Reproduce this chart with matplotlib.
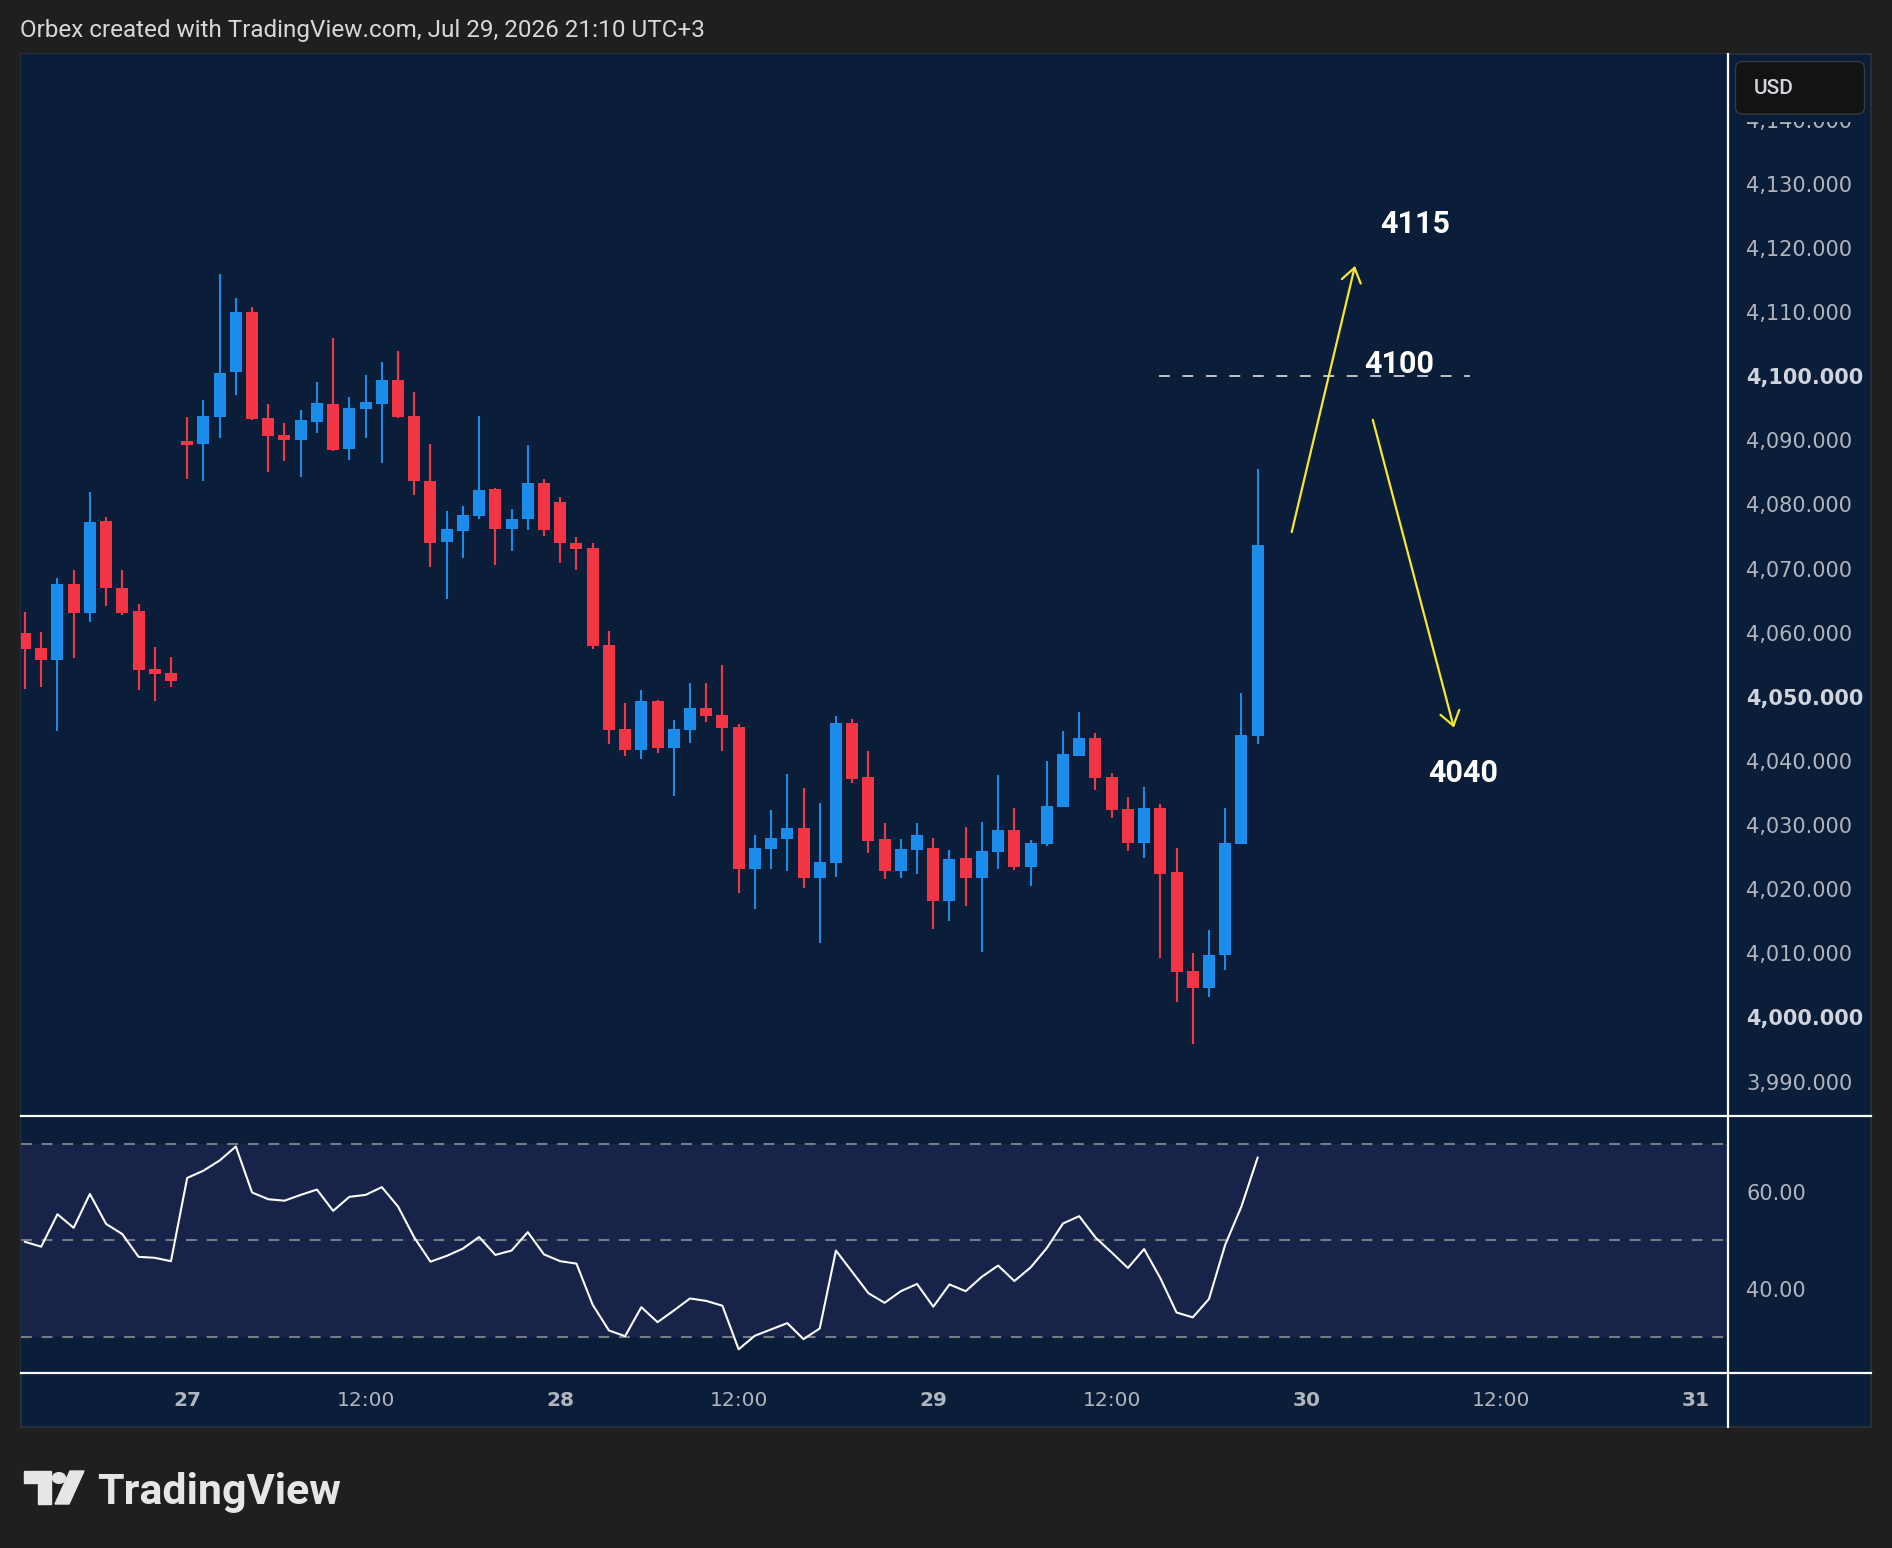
import numpy as np
import matplotlib
matplotlib.use("Agg")
import matplotlib.pyplot as plt
from matplotlib.patches import Rectangle, FancyBboxPatch, Polygon, Circle
from matplotlib.lines import Line2D
from matplotlib.transforms import IdentityTransform

W, H = 1892, 1548

# -----------------------------
# 1. DATA (hourly bars)
# -----------------------------
opens = [4060.0, 4057.6, 4055.8, 4067.6, 4063.1, 4077.4, 4067.0, 4063.4, 4054.3, 4053.7,
         4089.9, 4089.5, 4093.7, 4100.6, 4110.0, 4093.5, 4090.8, 4090.1, 4092.9, 4095.7,
         4088.7, 4094.9, 4095.7, 4099.4, 4093.8, 4083.7, 4074.1, 4075.9, 4078.2, 4082.4,
         4076.2, 4077.7, 4083.4, 4080.4, 4074.0, 4073.2, 4058.1, 4045.0, 4041.7, 4049.4,
         4042.0, 4044.8, 4048.3, 4047.2, 4045.3, 4023.2, 4026.3, 4027.8, 4029.5, 4021.8,
         4024.1, 4045.9, 4037.5, 4027.8, 4022.8, 4026.1, 4026.4, 4018.2, 4024.9, 4021.8,
         4025.8, 4029.2, 4023.5, 4027.0, 4032.8, 4040.8, 4043.6, 4037.5, 4032.5, 4027.2,
         4032.7, 4022.7, 4007.2, 4004.6, 4009.8, 4027.0, 4043.9]
highs = [4063.2, 4060.1, 4068.5, 4069.8, 4081.9, 4078.0, 4069.8, 4064.5, 4057.8, 4056.2,
         4093.6, 4096.3, 4115.9, 4112.2, 4110.8, 4095.7, 4092.7, 4094.7, 4099.1, 4106.0,
         4096.8, 4100.2, 4102.2, 4103.9, 4097.5, 4089.4, 4079.0, 4079.8, 4093.8, 4082.5,
         4079.3, 4089.3, 4084.0, 4081.2, 4074.9, 4074.0, 4060.3, 4049.0, 4051.1, 4049.5,
         4046.4, 4052.2, 4052.2, 4055.0, 4045.8, 4028.5, 4032.4, 4038.0, 4035.8, 4033.4,
         4047.0, 4046.5, 4041.6, 4030.3, 4027.8, 4030.3, 4028.0, 4026.1, 4029.7, 4030.5,
         4037.8, 4032.7, 4027.7, 4040.0, 4044.7, 4047.6, 4044.4, 4038.1, 4034.4, 4035.9,
         4033.3, 4026.4, 4010.1, 4013.7, 4032.7, 4050.6, 4085.5]
lows = [4051.3, 4051.6, 4044.7, 4056.0, 4061.7, 4064.1, 4062.8, 4051.1, 4049.3, 4051.6,
        4083.9, 4083.6, 4090.4, 4097.0, 4093.2, 4085.1, 4086.8, 4084.3, 4091.2, 4088.4,
        4087.0, 4090.4, 4086.5, 4093.5, 4081.5, 4070.3, 4065.3, 4071.7, 4077.7, 4070.6,
        4072.7, 4076.0, 4075.1, 4070.9, 4069.8, 4057.5, 4042.7, 4040.8, 4040.3, 4041.3,
        4034.5, 4042.8, 4046.1, 4041.6, 4019.4, 4016.9, 4023.2, 4022.8, 4020.2, 4011.6,
        4021.9, 4036.6, 4025.6, 4021.6, 4021.8, 4022.4, 4013.8, 4015.0, 4017.4, 4010.2,
        4023.2, 4023.0, 4020.5, 4026.7, 4032.8, 4040.8, 4035.5, 4031.1, 4026.0, 4024.9,
        4009.3, 4002.4, 3995.8, 4003.2, 4007.4, 4027.0, 4042.6]
closes = [4057.5, 4055.8, 4067.6, 4063.0, 4077.3, 4066.9, 4063.1, 4054.2, 4053.6, 4052.5,
          4089.2, 4093.8, 4100.5, 4110.0, 4093.3, 4090.7, 4090.1, 4093.2, 4095.8, 4088.5,
          4095.0, 4096.0, 4099.4, 4093.6, 4083.6, 4074.0, 4076.2, 4078.4, 4082.3, 4076.2,
          4077.7, 4083.4, 4076.0, 4074.0, 4073.1, 4057.9, 4044.8, 4041.7, 4049.4, 4042.0,
          4045.0, 4048.3, 4047.0, 4045.1, 4023.2, 4026.4, 4028.0, 4029.5, 4021.8, 4024.2,
          4045.9, 4037.2, 4027.5, 4022.8, 4026.3, 4028.5, 4018.2, 4024.7, 4021.8, 4026.0,
          4029.2, 4023.5, 4027.2, 4033.0, 4041.1, 4043.6, 4037.3, 4032.3, 4027.2, 4032.7,
          4022.4, 4007.1, 4004.6, 4009.8, 4027.2, 4044.1, 4073.6]
rsi = [49.7, 48.7, 55.4, 52.6, 59.6, 53.4, 51.3, 46.6, 46.4, 45.7,
       62.9, 64.4, 66.5, 69.4, 59.9, 58.5, 58.2, 59.4, 60.5, 56.1,
       59.0, 59.4, 61.0, 57.0, 50.6, 45.6, 46.8, 48.3, 50.7, 47.0,
       47.9, 51.7, 47.1, 45.7, 45.2, 36.7, 31.4, 30.2, 36.2, 33.1,
       35.5, 38.0, 37.5, 36.5, 27.5, 30.3, 31.6, 32.9, 29.6, 31.8,
       47.9, 43.5, 39.1, 37.1, 39.5, 41.0, 36.3, 40.9, 39.5, 42.5,
       44.8, 41.6, 44.4, 48.4, 53.5, 55.0, 50.6, 47.5, 44.3, 48.2,
       42.2, 35.1, 34.1, 37.9, 49.1, 57.0, 67.1]

time_ticks = [10, 21, 33, 44, 56, 67, 79, 91, 103]
time_labels = ["27", "12:00", "28", "12:00", "29", "12:00", "30", "12:00", "31"]
price_ticks = list(range(3990, 4150, 10))
rsi_ticks = [40, 60]
rsi_levels = [30, 50, 70]

level_price = 4100
level_span = [69.9, 89.1]
up_arrow = [(78.1, 4075.7), (82.0, 4117.2)]
down_arrow = [(83.1, 4093.2), (88.1, 4045.2)]
notes = [("4115", 85.7, 4123.8), ("4100", 84.7, 4101.9), ("4040", 88.7, 4038.1)]

# -----------------------------
# 2. STYLE
# -----------------------------
OUTER = "#1f1f1f"
NAVY = "#0a1e3a"
BAND = "#172348"
UP = "#1b8cea"
DOWN = "#f23645"
AXIS_TXT = "#b2b5be"
YELLOW = "#f7e733"

plt.rcParams["font.family"] = ["DejaVu Sans"]


def fx(x):
    return x / W


def fy(y):
    return 1 - y / H


fig = plt.figure(figsize=(W / 100, H / 100), dpi=100, facecolor=OUTER)

# chart panel background
panel = Rectangle((20.5, H - 1427), 1871 - 20.5, 1427 - 54, transform=IdentityTransform(),
                  facecolor=NAVY, edgecolor="#2a2e39", lw=1.5, zorder=-1)
fig.patches.append(panel)

left, right = 20.5, 1728
ax = fig.add_axes([fx(left), fy(1116), (right - left) / W, (1116 - 54) / H])
ax2 = fig.add_axes([fx(left), fy(1373), (right - left) / W, (1373 - 1116) / H])

xmin, xmax = -0.277, 105.0

# -----------------------------
# 3. CANDLES
# -----------------------------
x = np.arange(len(opens))
o = np.array(opens)
c = np.array(closes)
colors = [UP if cc >= oo else DOWN for oo, cc in zip(o, c)]
ax.vlines(x, lows, highs, colors=colors, lw=1.5, zorder=2)
body = np.maximum(np.abs(c - o), 0.25)
ax.bar(x, body, bottom=np.minimum(o, c), width=0.74, color=colors, lw=0, zorder=3)

ax.set_facecolor(NAVY)
ax.set_xlim(xmin, xmax)
ax.set_ylim(3984.64, 4150.24)
for s in ax.spines.values():
    s.set_visible(False)
ax.yaxis.tick_right()
ax.set_yticks(price_ticks)
ax.set_yticklabels([f"{v:,.3f}" for v in price_ticks])
ax.tick_params(axis="y", length=0, pad=13, labelsize=15, labelcolor=AXIS_TXT)
ax.tick_params(axis="x", bottom=False, labelbottom=False)
for lab, v in zip(ax.get_yticklabels(), price_ticks):
    if v % 50 == 0:
        lab.set_fontweight("bold")
        lab.set_color("#d1d4dc")

# annotations
ax.plot(level_span, [level_price, level_price], color="#d0d0d0", lw=1.3,
        dashes=(6, 7), zorder=4)
for (x0, y0), (x1, y1) in [up_arrow, down_arrow]:
    ax.annotate("", xy=(x1, y1), xytext=(x0, y0),
                arrowprops=dict(arrowstyle="->,head_length=0.5,head_width=0.35",
                                color=YELLOW, lw=1.6, mutation_scale=20,
                                shrinkA=0, shrinkB=0), zorder=5)
for txt, nx, ny in notes:
    ax.text(nx, ny, txt, color="white", fontsize=22, fontweight="bold",
            family=["Roboto", "DejaVu Sans"], ha="center", va="center", zorder=6)

# -----------------------------
# 4. RSI PANE
# -----------------------------
ax2.set_facecolor(NAVY)
ax2.axhspan(rsi_levels[0], rsi_levels[-1], color=BAND, lw=0, zorder=0)
for lv in rsi_levels:
    ax2.axhline(lv, color="#787b86", lw=1.5, dashes=(5.2, 4.7), zorder=1)
ax2.plot(x, rsi, color="white", lw=1.5, zorder=3)
ax2.set_xlim(xmin, xmax)
ax2.set_ylim(22.6, 75.7)
for s in ax2.spines.values():
    s.set_visible(False)
ax2.yaxis.tick_right()
ax2.set_yticks(rsi_ticks)
ax2.set_yticklabels([f"{v:.2f}" for v in rsi_ticks])
ax2.tick_params(axis="y", length=0, pad=13, labelsize=15, labelcolor=AXIS_TXT)
ax2.set_xticks(time_ticks)
ax2.set_xticklabels(time_labels)
ax2.tick_params(axis="x", length=0, pad=13, labelsize=14.5, labelcolor=AXIS_TXT)
for lab, t in zip(ax2.get_xticklabels(), time_labels):
    if ":" not in t:
        lab.set_fontweight("bold")

# -----------------------------
# 5. FRAME LINES, HEADER, LOGO
# -----------------------------
for y in (1116, 1373):
    fig.lines.append(Line2D([fx(20.5), fx(1871)], [fy(y), fy(y)], transform=fig.transFigure,
                            color="white", lw=1.6, zorder=4))
fig.lines.append(Line2D([fx(1728), fx(1728)], [fy(54), fy(1427)], transform=fig.transFigure,
                        color="white", lw=1.6, zorder=4))

# price scale clips the top label under the currency box
fig.patches.append(Rectangle((1730, H - 122), 140, 30, transform=IdentityTransform(),
                             facecolor=NAVY, lw=0, zorder=4.5))
usd = FancyBboxPatch((1735.5, H - 114), 129, 52.5, boxstyle="round,pad=0,rounding_size=7",
                     transform=IdentityTransform(), facecolor="#131313",
                     edgecolor="#3a3a3a", lw=1, zorder=5)
fig.patches.append(usd)
fig.text(fx(1754), fy(88), "USD", color="#d1d4dc", fontsize=15, va="center", zorder=6,
         family=["Roboto", "DejaVu Sans"], fontweight="medium")

fig.text(fx(20), fy(30), "Orbex created with TradingView.com, Jul 29, 2026 21:10 UTC+3",
         color="#d8d8d8", fontsize=17.5, family=["Roboto", "DejaVu Sans"], va="center")

# TradingView logo (rough)
def px_poly(pts):
    return [(fx(a), fy(b)) for a, b in pts]

logo_col = "#e6e6e6"
fig.patches.append(Polygon(px_poly([(24, 1471), (51, 1471), (51, 1504), (38, 1504),
                                    (38, 1483), (24, 1483)]),
                           closed=True, transform=fig.transFigure, color=logo_col))
fig.patches.append(Circle((fx(59), fy(1478)), 6.5 / W, transform=fig.transFigure,
                          color=logo_col))
fig.patches.append(Polygon(px_poly([(70, 1471), (84, 1471), (69, 1504), (55, 1504)]),
                           closed=True, transform=fig.transFigure, color=logo_col))
fig.text(fx(97), fy(1504), "TradingView", color=logo_col, fontsize=31, fontweight="bold",
         family=["Roboto", "DejaVu Sans"], va="baseline")

fig.savefig("out.png", dpi=100, facecolor=fig.get_facecolor())
